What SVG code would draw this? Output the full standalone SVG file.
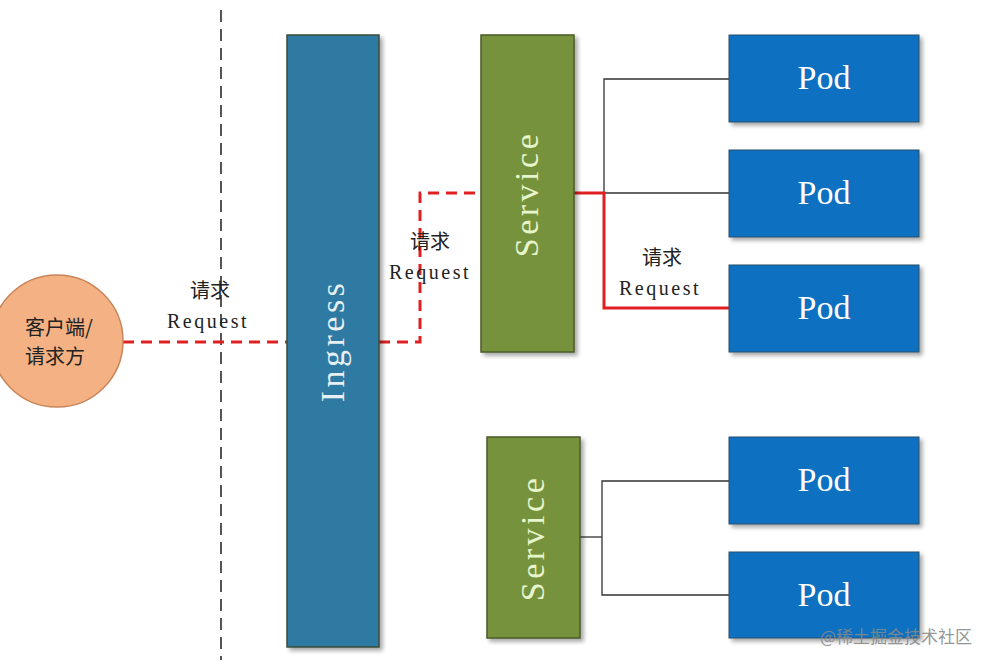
<svg xmlns="http://www.w3.org/2000/svg" width="990" height="667" viewBox="0 0 990 667">
<defs>
<filter id="sh" x="-10%" y="-10%" width="130%" height="130%">
<feGaussianBlur in="SourceAlpha" stdDeviation="2"/>
<feOffset dx="3" dy="3" result="b"/>
<feComponentTransfer><feFuncA type="linear" slope="0.35"/></feComponentTransfer>
<feMerge><feMergeNode/><feMergeNode in="SourceGraphic"/></feMerge>
</filter>
</defs>
<style>
.ing{fill:#2f7aa2;stroke:#3a4f3a;stroke-width:1.5}
.svc{fill:#76923c;stroke:#4a5a2a;stroke-width:1.5}
.pod{fill:#0a6fc0;stroke:#2d4f6a;stroke-width:1}
.big{font-family:"Liberation Serif",serif;font-size:34px;letter-spacing:3.5px;text-anchor:middle}
.podt{font-family:"Liberation Serif",serif;font-size:34px;fill:#ffffff;text-anchor:middle}
.lbl{font-family:"Liberation Serif","Noto Sans CJK SC",serif;font-size:20px;fill:#222;text-anchor:middle}
.cn{font-family:"Noto Sans CJK SC",sans-serif;font-size:20px;fill:#222;text-anchor:middle}
.red{fill:none;stroke:#e02020;stroke-width:3}
.blk{fill:none;stroke:#333;stroke-width:1.3}
</style>
<rect width="990" height="667" fill="#ffffff"/>
<line x1="221" y1="10" x2="221" y2="660" stroke="#555" stroke-width="2" stroke-dasharray="12,7"/>
<g id="connectors">
<polyline class="red" points="123,342 287,342" stroke-dasharray="11,7"/>
<polyline class="red" points="379,342 420,342 420,193 481,193" stroke-dasharray="11,7"/>
<polyline class="blk" points="729,79 604,79 604,308"/>
<polyline class="blk" points="574,193 729,193"/>
<polyline class="red" points="574,193 604,193 604,308 729,308"/>
<polyline class="blk" points="580,537 602,537"/>
<polyline class="blk" points="729,481 602,481 602,595 729,595"/>
</g>
<g id="client">
<circle cx="57" cy="341" r="66" fill="#f4b183" stroke="#c9855a" stroke-width="1.5"/>
<text class="cn" x="59" y="335" font-size="22">客户端/</text>
<text class="cn" x="55" y="364" font-size="22">请求方</text>
</g>
<g id="label1">
<text class="cn" x="210" y="298">请求</text>
<text class="lbl" x="208" y="328" letter-spacing="2.5">Request</text>
</g>
<g id="label2">
<text class="cn" x="430" y="249">请求</text>
<text class="lbl" x="430" y="279" letter-spacing="2.5">Request</text>
</g>
<g id="label3">
<text class="cn" x="662" y="265">请求</text>
<text class="lbl" x="660" y="295" letter-spacing="2.5">Request</text>
</g>
<g id="ingress">
<rect class="ing" x="287" y="35" width="92" height="612" filter="url(#sh)"/>
<text class="big" fill="#e8f0f4" transform="translate(344,341) rotate(-90)">Ingress</text>
</g>
<g id="service1">
<rect class="svc" x="481" y="35" width="93" height="317" filter="url(#sh)"/>
<text class="big" fill="#e6f5cc" transform="translate(538,194) rotate(-90)">Service</text>
</g>
<g id="service2">
<rect class="svc" x="487" y="437" width="93" height="201" filter="url(#sh)"/>
<text class="big" fill="#e6f5cc" transform="translate(544,538) rotate(-90)">Service</text>
</g>
<g id="pod1"><rect class="pod" x="729" y="35" width="190" height="87" filter="url(#sh)"/><text class="podt" x="824" y="89">Pod</text></g>
<g id="pod2"><rect class="pod" x="729" y="150" width="190" height="87" filter="url(#sh)"/><text class="podt" x="824" y="204">Pod</text></g>
<g id="pod3"><rect class="pod" x="729" y="265" width="190" height="87" filter="url(#sh)"/><text class="podt" x="824" y="319">Pod</text></g>
<g id="pod4"><rect class="pod" x="729" y="437" width="190" height="87" filter="url(#sh)"/><text class="podt" x="824" y="491">Pod</text></g>
<g id="pod5"><rect class="pod" x="729" y="552" width="190" height="86" filter="url(#sh)"/><text class="podt" x="824" y="606">Pod</text></g>
<text x="972" y="643" font-family="'Noto Sans CJK SC',sans-serif" font-size="17" fill="#888" fill-opacity="0.9" text-anchor="end">@稀土掘金技术社区</text>
</svg>
